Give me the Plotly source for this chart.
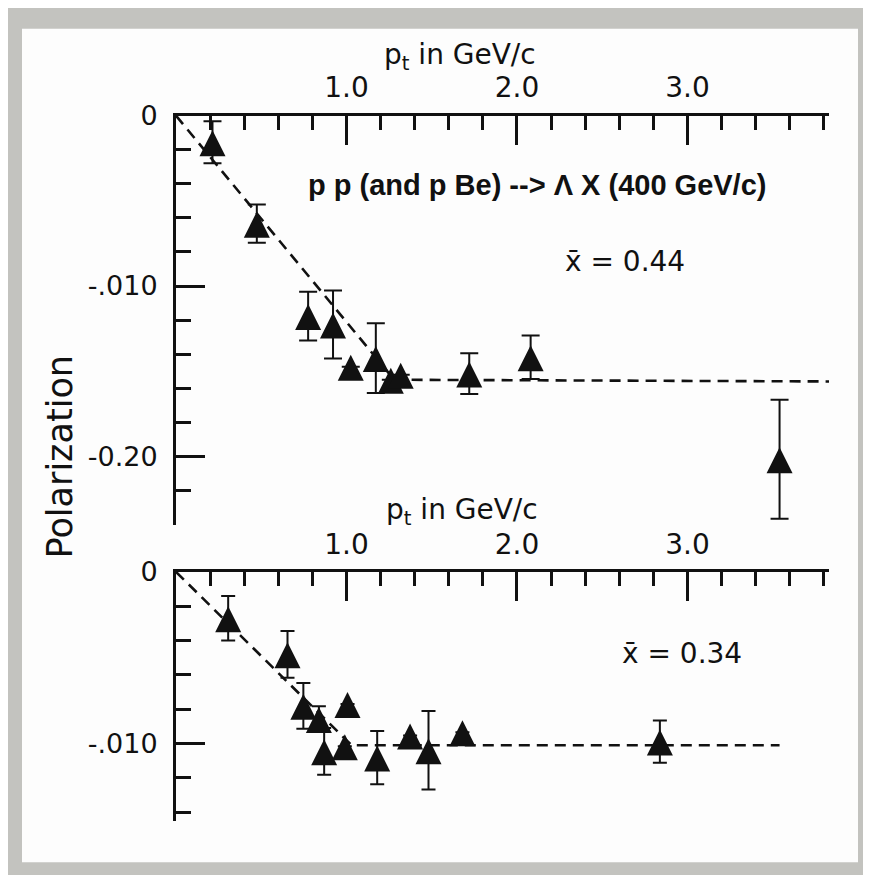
import plotly.graph_objects as go

# ---------------- data ----------------
# upper panel  (x-bar = 0.44)
pt_top = [0.214, 0.474, 0.775, 0.921, 1.025, 1.172, 1.26, 1.318, 1.72, 2.08, 3.54]
pol_top = [-0.0156, -0.0634, -0.1176, -0.1226, -0.1474, -0.1423, -0.155, -0.152,
           -0.1514, -0.1418, -0.2016]
err_top = [0.0123, 0.0112, 0.0143, 0.0199, None, 0.0205, None, None, 0.012, 0.0128, 0.0349]

fit_top_pt = [0.0, 1.28, 3.83]
fit_top_pol = [0.0, -0.155, -0.156]

# lower panel  (x-bar = 0.34)
pt_bot = [0.306, 0.654, 0.747, 0.838, 0.869, 1.006, 0.99, 1.18, 1.373, 1.481, 1.68, 2.838]
pol_bot = [-0.027, -0.048, -0.078, -0.0857, -0.1045, -0.077, -0.1016, -0.1081,
           -0.0953, -0.1039, -0.0934, -0.0988]
err_bot = [0.0129, 0.0136, 0.0133, 0.0074, 0.0136, None, None, 0.0155, None, 0.0229, None, 0.0123]

fit_bot_pt = [0.0, 1.03, 3.54]
fit_bot_pol = [0.0, -0.101, -0.101]

x_tickvals = [1, 2, 3]
x_ticktext = ["1.0", "2.0", "3.0"]
y_top_tickvals = [0, -0.1, -0.2]
y_top_ticktext = ["0", "-.010", "-0.20"]
y_bot_tickvals = [0, -0.1]
y_bot_ticktext = ["0", "-.010"]

# ---------------- figure ----------------
PAGE_W, PAGE_H = 871, 883
BODY = 8                       # default page margin around the plot div
W, H = PAGE_W - 2 * BODY, PAGE_H - 2 * BODY
INK = "#111111"
FONT = "DejaVu Sans"
# observed vertical placement of the photographed page: shown_y = Y_OFF + Y_SC * page_y
Y_OFF, Y_SC = 15.5, 0.982


def px(v):
    return (v - BODY) / W


def py(v):
    page_y = (v - Y_OFF) / Y_SC
    return 1 - (page_y - BODY) / H


fig = go.Figure()

marker = dict(symbol="arrow-down", angle=180, size=26, standoff=12, color=INK)

fig.add_trace(go.Scatter(x=fit_top_pt, y=fit_top_pol, mode="lines",
                         line=dict(color=INK, width=2.6, dash="11px,7px"),
                         xaxis="x", yaxis="y", hoverinfo="skip", showlegend=False))
fig.add_trace(go.Scatter(x=pt_top, y=pol_top, mode="markers", marker=marker,
                         error_y=dict(type="data", array=err_top, visible=True,
                                      color=INK, thickness=2, width=9),
                         cliponaxis=False, xaxis="x", yaxis="y", showlegend=False))

fig.add_trace(go.Scatter(x=fit_bot_pt, y=fit_bot_pol, mode="lines",
                         line=dict(color=INK, width=2.6, dash="11px,7px"),
                         xaxis="x2", yaxis="y2", hoverinfo="skip", showlegend=False))
fig.add_trace(go.Scatter(x=pt_bot, y=pol_bot, mode="markers", marker=marker,
                         error_y=dict(type="data", array=err_bot, visible=True,
                                      color=INK, thickness=2, width=7),
                         cliponaxis=False, xaxis="x2", yaxis="y2", showlegend=False))

xdom = [px(176), px(829)]
xcommon = dict(range=[0, 3.83], side="top", showline=True, linecolor=INK, linewidth=3,
               showgrid=False, zeroline=False, ticks="inside", ticklen=29, tickwidth=2.5,
               tickcolor=INK, tickmode="array", tickvals=x_tickvals, ticktext=x_ticktext,
               tickfont=dict(family=FONT, size=28, color=INK), ticklabelstandoff=4,
               minor=dict(ticks="inside", dtick=0.2, tick0=0, ticklen=14, tickwidth=2.5,
                          tickcolor=INK, showgrid=False))
ycommon = dict(showline=True, linecolor=INK, linewidth=3, showgrid=False, zeroline=False,
               ticks="inside", ticklen=29, tickwidth=2.5, tickcolor=INK, tickmode="array",
               tickfont=dict(family=FONT, size=27, color=INK), ticklabelstandoff=10,
               minor=dict(ticks="inside", dtick=0.02, tick0=0, ticklen=15, tickwidth=2.5,
                          tickcolor=INK, showgrid=False))

fig.update_layout(
    width=W, height=H,
    margin=dict(l=0, r=0, t=0, b=0),
    paper_bgcolor="#c3c3bf",
    plot_bgcolor="rgba(0,0,0,0)",
    showlegend=False,
    xaxis=dict(domain=xdom, anchor="y", **xcommon),
    yaxis=dict(domain=[py(524.2), py(115)], range=[-0.24, 0], anchor="x",
               tickvals=y_top_tickvals, ticktext=y_top_ticktext, **ycommon),
    xaxis2=dict(domain=xdom, anchor="y2", **xcommon),
    yaxis2=dict(domain=[py(820.6), py(571.5)], range=[-0.145, 0], anchor="x2",
                tickvals=y_bot_tickvals, ticktext=y_bot_ticktext, **ycommon),
    shapes=[dict(type="rect", xref="paper", yref="paper", layer="below",
                 x0=px(22), x1=px(858), y0=py(862), y1=py(28),
                 fillcolor="#fdfdfd", line=dict(width=0))],
)

ann = [
    dict(text="p<sub>t</sub> in GeV/c", x=px(460), y=py(56), size=28),
    dict(text="p<sub>t</sub> in GeV/c", x=px(462), y=py(511), size=28),
    dict(text="x\u0304 = 0.44", x=px(625), y=py(261), size=28),
    dict(text="x\u0304 = 0.34", x=px(682), y=py(653), size=28),
]
for a in ann:
    fig.add_annotation(text=a["text"], x=a["x"], y=a["y"], xref="paper", yref="paper",
                       xanchor="center", yanchor="middle", showarrow=False,
                       font=dict(family=FONT, size=a["size"], color=INK))

fig.add_annotation(text="<b>p p (and p Be) --> \u039b X (400 GeV/c)</b>",
                   x=px(537), y=py(184), xref="paper", yref="paper",
                   xanchor="center", yanchor="middle", showarrow=False,
                   font=dict(family="Liberation Sans", size=29, color=INK))
fig.add_annotation(text="Polarization", textangle=-90, x=px(60), y=py(457),
                   xref="paper", yref="paper", xanchor="center", yanchor="middle",
                   showarrow=False, font=dict(family=FONT, size=35, color=INK))

fig.write_html("out.html")
